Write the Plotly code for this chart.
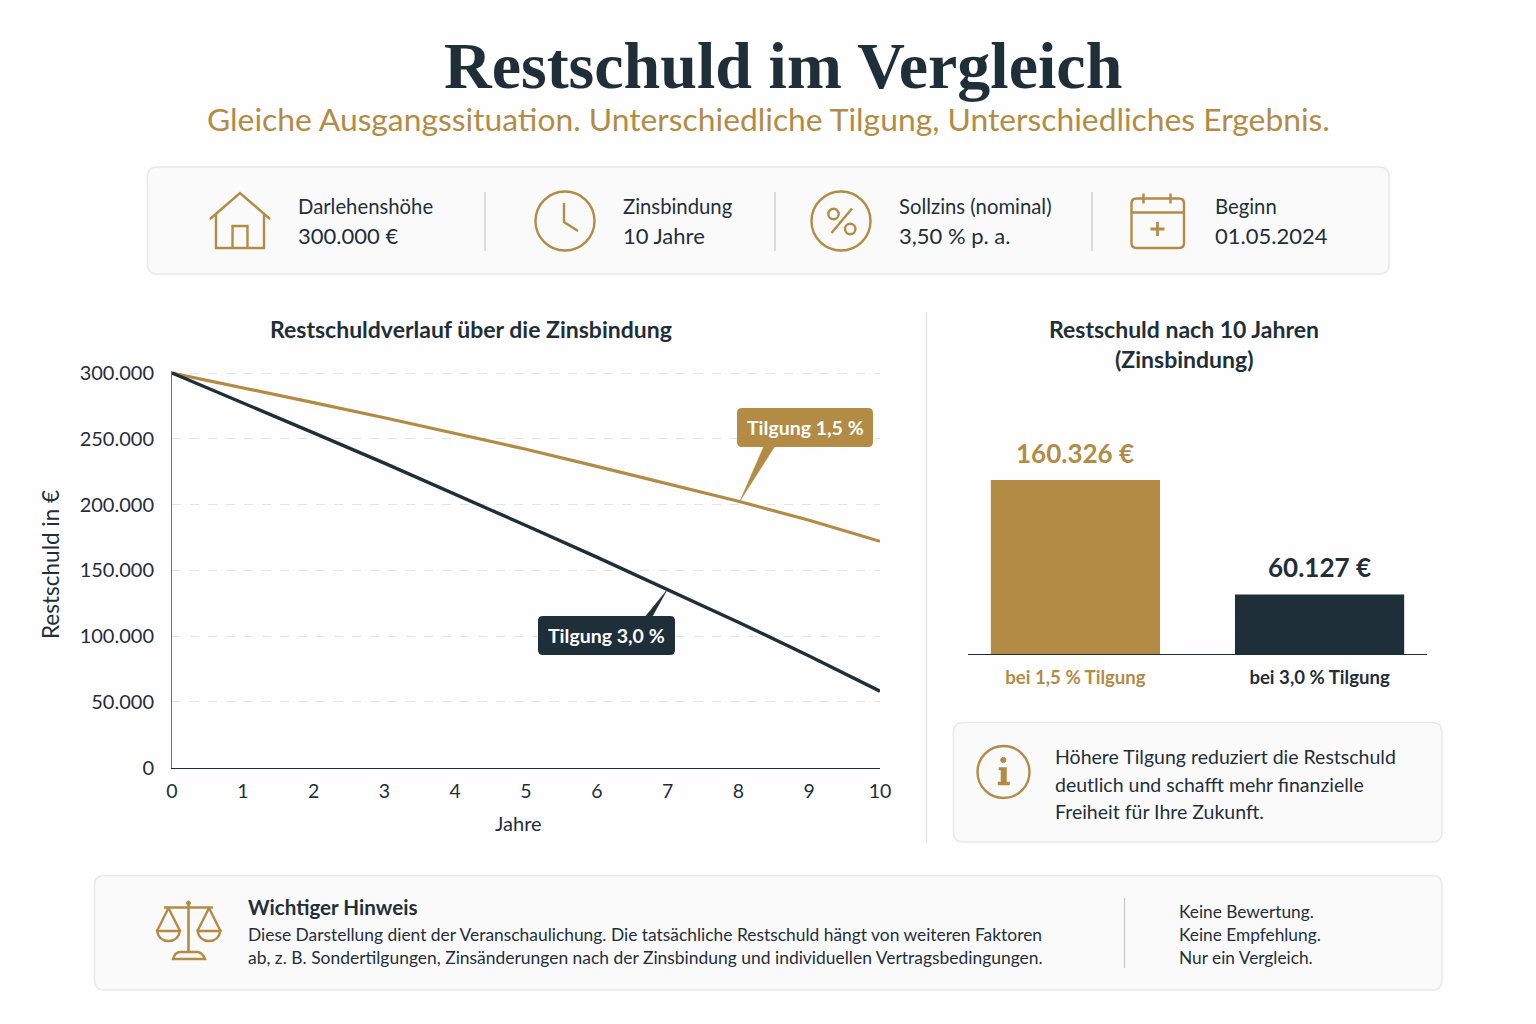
import plotly.graph_objects as go

# chart data
jahre = [0, 1, 2, 3, 4, 5, 6, 7, 8, 9, 10]
tilgung_15 = [300000, 289000, 277500, 266000, 254000, 242000, 229000, 216000, 202500, 188000, 172000]
tilgung_30 = [300000, 277500, 254500, 231500, 208000, 184000, 160000, 135500, 110500, 84800, 58000]
y_ticks = [0, 50000, 100000, 150000, 200000, 250000, 300000]

bar_pos = [0, 1]
bar_namen = ["bei 1,5 % Tilgung", "bei 3,0 % Tilgung"]
bar_werte = [160326, 60127]
bar_labels = ["160.326 €", "60.127 €"]

GOLD = "#B38B45"
DARK = "#1F2F3A"
GRID = "#E2E4E5"
CARD = "#FAFAFA"
BORDER = "#E9E9E9"
LINE = "#C4C7C9"
FONT = "Lato"
SERIF = "Liberation Serif"
W, H = 1536, 1024

fig = go.Figure()

fig.add_trace(go.Scatter(x=jahre, y=tilgung_15, mode="lines", line=dict(color=GOLD, width=3.2),
                         xaxis="x", yaxis="y", name="Tilgung 1,5 %"))
fig.add_trace(go.Scatter(x=jahre, y=tilgung_30, mode="lines", line=dict(color=DARK, width=3.4),
                         xaxis="x", yaxis="y", name="Tilgung 3,0 %"))
fig.add_trace(go.Bar(x=bar_pos, y=bar_werte, width=0.693, marker=dict(color=[GOLD, DARK], line_width=0),
                     xaxis="x2", yaxis="y2"))

shapes = []
texts = []


def px_x(x):
    return x / W


def px_y(y):
    return 1 - y / H


def convert(d):
    # path written in page pixels -> paper coordinates
    out = []
    is_x = True
    for tok in d.split():
        if tok.isalpha():
            out.append(tok)
            is_x = True
        else:
            out.append(f"{px_x(float(tok)) if is_x else px_y(float(tok)):.5f}")
            is_x = not is_x
    return " ".join(out)


def path(d, color=GOLD, width=2.4, fill=None, layer="above"):
    shapes.append(dict(type="path", xref="paper", yref="paper", path=convert(d),
                       line=dict(color=color, width=width),
                       fillcolor=fill if fill else "rgba(0,0,0,0)", layer=layer))


def round_rect(x0, y0, x1, y1, r):
    return (f"M {x0+r} {y0} L {x1-r} {y0} Q {x1} {y0} {x1} {y0+r} L {x1} {y1-r} Q {x1} {y1} {x1-r} {y1} "
            f"L {x0+r} {y1} Q {x0} {y1} {x0} {y1-r} L {x0} {y0+r} Q {x0} {y0} {x0+r} {y0} Z")


def card(x0, y0, x1, y1):
    path(round_rect(x0, y0, x1, y1, 10), color=BORDER, width=1.5, fill=CARD, layer="below")


def vline(x, y0, y1, color=LINE):
    path(f"M {x} {y0} L {x} {y1}", color=color, width=1.2, layer="below")


def circle(cx, cy, r, width=2.4, fill=None):
    shapes.append(dict(type="circle", xref="paper", yref="paper", x0=px_x(cx-r), x1=px_x(cx+r),
                       y0=px_y(cy-r), y1=px_y(cy+r), line=dict(color=GOLD, width=width),
                       fillcolor=fill if fill else "rgba(0,0,0,0)"))


def label(x, y, text, size, color=DARK, anchor="left", family=FONT, bold=False, angle=0):
    # annotation box adds about 2px on the left and 1px on top
    if anchor == "left":
        x -= 2
    texts.append(dict(xref="paper", yref="paper", x=px_x(x), y=px_y(y - 1), text=text, showarrow=False,
                      xanchor=anchor, yanchor="middle", textangle=angle,
                      font=dict(size=size, color=color, family=family, weight="bold" if bold else "normal")))


# header
label(782.5, 66, "Restschuld im Vergleich", 66, anchor="center", family=SERIF, bold=True)
label(768, 120, "Gleiche Ausgangssituation. Unterschiedliche Tilgung, Unterschiedliches Ergebnis.", 31.8,
      color=GOLD, anchor="center")

# cards and dividers
card(147.5, 167, 1389, 274)
card(953.5, 722.5, 1442, 842)
card(94.5, 875.5, 1442, 990)
for x in [485, 775, 1092]:
    vline(x, 192, 251)
vline(926.5, 312, 842, color="#DDDFE0")
vline(1124.5, 898, 968)

# top info row
label(298, 207, "Darlehenshöhe", 20.3)
label(298, 236, "300.000 €", 22)
label(623, 207, "Zinsbindung", 20.3)
label(623, 236, "10 Jahre", 22)
label(899, 207, "Sollzins (nominal)", 20.3)
label(899, 236, "3,50 % p. a.", 22)
label(1215, 207, "Beginn", 20.3)
label(1215, 236, "01.05.2024", 22)

# house icon
path("M 210 219 L 240 193 L 270 219")
path("M 216 214 L 216 248 L 264 248 L 264 214")
path("M 232.5 248 L 232.5 226 L 247.5 226 L 247.5 248")
# clock icon
circle(565, 221, 29.5)
path("M 564 203 L 564 222 L 578 231")
# percent icon
circle(841, 221, 29.5)
circle(833.5, 214, 5.2)
circle(850.2, 229, 5.2)
path("M 852 208.5 L 831.5 233")
# calendar icon
path(round_rect(1131.5, 198.5, 1184, 248, 5))
path("M 1131.5 212.5 L 1184 212.5")
path("M 1143.5 193.5 L 1143.5 203.5 M 1170.5 193.5 L 1170.5 203.5")
path("M 1150.5 229 L 1164.5 229 M 1157.5 222 L 1157.5 236", width=2.8)

# chart headings
label(470.5, 330, "Restschuldverlauf über die Zinsbindung", 23, anchor="center", bold=True)
label(1184, 330, "Restschuld nach 10 Jahren", 23, anchor="center", bold=True)
label(1184, 360, "(Zinsbindung)", 23, anchor="center", bold=True)
label(518, 824, "Jahre", 20, anchor="center")
label(50, 566, "Restschuld in €", 22.5, anchor="center", angle=-90)

# line callouts
path(round_rect(737, 408, 873, 447, 5), color=GOLD, width=0, fill=GOLD)
path("M 764 446 L 775 446 L 740 501 Z", color=GOLD, width=0.5, fill=GOLD)
label(805, 428, "Tilgung 1,5 %", 19.5, color="#FFFFFF", anchor="center", bold=True)
path(round_rect(538, 616, 675, 655, 5), color=DARK, width=0, fill=DARK)
path("M 645 617 L 652 617 L 667 590 Z", color=DARK, width=0.5, fill=DARK)
label(606.5, 636.5, "Tilgung 3,0 %", 19.5, color="#FFFFFF", anchor="center", bold=True)

# bar value labels
for xb, yb, txt, col in zip(bar_pos, bar_werte, bar_labels, [GOLD, DARK]):
    texts.append(dict(xref="x2", yref="y2", x=xb, y=yb, text=txt, showarrow=False, xanchor="center",
                      yanchor="middle", yshift=27, font=dict(size=26, color=col, family=FONT, weight="bold")))

# info card
circle(1003.5, 772, 26)
circle(1003.3, 760, 2.6, width=1, fill=GOLD)
path("M 999 767.5 L 1006.5 767.5 L 1006.5 782 L 1009.5 782 L 1009.5 785 L 998 785 L 998 782 L 1001 782 L 1001 770 L 999 770 Z",
     width=0.5, fill=GOLD)
label(1055, 757.5, "Höhere Tilgung reduziert die Restschuld", 19.5)
label(1055, 785, "deutlich und schafft mehr finanzielle", 19.5)
label(1055, 812, "Freiheit für Ihre Zukunft.", 19.5)

# scales icon
path("M 164 907.5 L 213 907.5")
path("M 188.5 902 L 188.5 952", width=2.6)
circle(188.5, 903, 2, width=1, fill=GOLD)
path("M 168.5 908 L 157 931 M 168.5 908 L 180 931")
path("M 157 931 L 180 931 Q 178 941 168.5 941 Q 159 941 157 931 Z")
path("M 209 908 L 197.5 931 M 209 908 L 220.5 931")
path("M 197.5 931 L 220.5 931 Q 218.5 941 209 941 Q 199.5 941 197.5 931 Z")
path("M 173 959 L 205 959 Q 202 952 197 952 L 180 952 Q 175 952 173 959 Z")

# notice
label(248, 908, "Wichtiger Hinweis", 20.6, bold=True)
label(248, 935, "Diese Darstellung dient der Veranschaulichung. Die tatsächliche Restschuld hängt von weiteren Faktoren", 17.4)
label(248, 958, "ab, z. B. Sondertilgungen, Zinsänderungen nach der Zinsbindung und individuellen Vertragsbedingungen.", 17.45)
label(1179, 912, "Keine Bewertung.", 17.3)
label(1179, 935, "Keine Empfehlung.", 17.3)
label(1179, 958, "Nur ein Vergleich.", 17.3)

bar_ticks = [f'<b><span style="color:{c}">{n}</span></b>' for n, c in zip(bar_namen, [GOLD, DARK])]

fig.update_layout(
    width=W, height=H, margin=dict(l=0, r=0, t=0, b=0, autoexpand=False), showlegend=False,
    paper_bgcolor="#FEFEFE", plot_bgcolor="rgba(0,0,0,0)", separators=",.",
    font=dict(family=FONT, color=DARK, size=19),
    shapes=shapes, annotations=texts,
    xaxis=dict(domain=[172/W, 880/W], range=[0, 10], tickvals=jahre, showgrid=False, zeroline=False,
               showline=True, linecolor=DARK, linewidth=1.2, ticks="", anchor="y", tickfont=dict(size=19.5),
               ticklabelstandoff=6),
    # top of range past 300.000, plotly clips gridlines closer than 1px to the axis end
    yaxis=dict(domain=[1-767.5/H, 1-370.5/H], range=[0, 301901], tickvals=y_ticks, tickformat=",",
               showgrid=True, gridcolor=GRID, griddash="dash", gridwidth=1, zeroline=False,
               showline=True, linecolor="#66747E", linewidth=1, ticks="", anchor="x", tickfont=dict(size=20),
               ticklabelstandoff=13),
    xaxis2=dict(domain=[968/W, 1427/W], range=[-0.44, 1.44], tickvals=bar_pos, ticktext=bar_ticks,
                showgrid=False, zeroline=False, showline=True, linecolor=DARK, linewidth=1.2, ticks="",
                anchor="y2", tickfont=dict(size=18.6), ticklabelstandoff=7),
    # lower bound above zero because the drawn bars are not quite proportional to their labels
    yaxis2=dict(domain=[1-654/H, 1-400/H], range=[7940, 230400], visible=False, anchor="x2"),
)

fig.write_html("out.html", config=dict(displayModeBar=False, responsive=False),
               post_script="document.body.style.margin='0';")
